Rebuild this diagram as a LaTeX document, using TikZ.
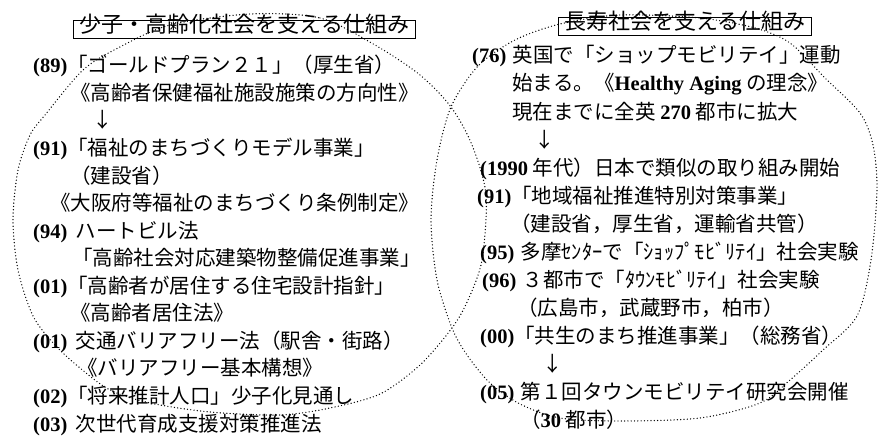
\documentclass[tikz,border=0pt]{standalone}
\usepackage{fontspec}
\setmainfont{Liberation Serif}
\newfontfamily\cjk{Noto Sans CJK JP}
\newcommand\lat[1]{{\rmfamily\bfseries #1}}
\begin{document}
\begin{tikzpicture}[x=1pt,y=-1pt,
  txt/.style={anchor=base west, inner sep=0pt, font=\fontsize{20.5}{24}\selectfont\cjk},
  arr/.style={anchor=base, inner sep=0pt, font=\fontsize{20.5}{24}\selectfont\cjk},
  ttl/.style={draw, line width=0.8pt, inner xsep=6pt, inner ysep=4pt, text height=0.88em, text depth=0.12em, font=\fontsize{22}{26}\selectfont\cjk},
  ring/.style={line width=1.4pt, line cap=round, dash pattern=on 0pt off 3.3pt}]
\useasboundingbox (0,0) rectangle (879,436);
% circles
\draw[ring] plot[smooth cycle] coordinates {(250,14) (320,18) (375,45) (420,75) (451,107) (472,145) (486,195) (482,260) (468,300) (452,328) (420,365) (380,394) (330,408) (280,415) (210,412) (150,403) (110,390) (80,368) (55,345) (33,316) (18,270) (13,220) (18,170) (30,135) (45,115) (83,70) (118,48) (170,25)};
\draw[ring] plot[smooth cycle] coordinates {(620,15) (700,18) (755,28) (790,43) (825,78) (860,113) (873,145) (877,190) (871,260) (857,316) (823,350) (790,380) (760,403) (700,418) (620,421) (560,418) (520,404) (490,383) (467,355) (452,328) (437,280) (431,220) (437,160) (451,107) (478,66) (515,40) (560,24)};
% titles
\node[ttl] (tl) at (244.5,29) {少子・高齢化社会を支える仕組み};
\node[ttl] (tr) at (685,26) {長寿社会を支える仕組み};
% left column
\node[txt] (l1) at (33,73) {\lat{(89)}「ゴールドプラン２１」（厚生省）};
\node[txt] (l2) at (70,100) {《高齢者保健福祉施設施策の方向性》};
\node[arr] (l3) at (103,128) {↓};
\node[txt] (l4) at (33,155) {\lat{(91)}「福祉のまちづくりモデル事業」};
\node[txt] (l5) at (70,183) {（建設省）};
\node[txt] (l6) at (50,210) {《大阪府等福祉のまちづくり条例制定》};
\node[txt] (l7) at (33,238) {\lat{(94)}\hspace{0.4em}ハートビル法};
\node[txt] (l8) at (72,265) {「高齢社会対応建築物整備促進事業」};
\node[txt] (l9) at (33,293) {\lat{(01)}「高齢者が居住する住宅設計指針」};
\node[txt] (l10) at (70,320) {《高齢者居住法》};
\node[txt] (l11) at (33,348) {\lat{(01)}\hspace{0.4em}交通バリアフリー法（駅舎・街路）};
\node[txt] (l12) at (77,375) {《バリアフリー基本構想》};
\node[txt] (l13) at (33,403) {\lat{(02)}「将来推計人口」少子化見通し};
\node[txt] (l14) at (33,431) {\lat{(03)}\hspace{0.4em}次世代育成支援対策推進法};
% right column
\node[txt] (r1) at (472,63) {\lat{(76)}\hspace{0.3em}英国で「ショップモビリテイ」運動};
\node[txt] (r2) at (512,91) {始まる。《\lat{Healthy Aging} の理念》};
\node[txt] (r3) at (512,119) {現在までに全英 \lat{270} 都市に拡大};
\node[arr] (r4) at (545,147) {↓};
\node[txt] (r5) at (480,175) {\lat{(1990} 年代）日本で類似の取り組み開始};
\node[txt] (r6) at (477,203) {\lat{(91)}「地域福祉推進特別対策事業」};
\node[txt] (r7) at (510,231) {（建設省，厚生省，運輸省共管）};
\node[txt] (r8) at (480,259) {\lat{(95)}\hspace{0.3em}多摩ｾﾝﾀｰで「ｼｮｯﾌﾟﾓﾋﾞﾘﾃｲ」社会実験};
\node[txt] (r9) at (482,287) {\lat{(96)}\hspace{0.3em}３都市で「ﾀｳﾝﾓﾋﾞﾘﾃｲ」社会実験};
\node[txt] (r10) at (517,315) {（広島市，武蔵野市，柏市）};
\node[txt] (r11) at (480,343) {\lat{(00)}「共生のまち推進事業」（総務省）};
\node[arr] (r12) at (553,371) {↓};
\node[txt] (r13) at (480,399) {\lat{(05)}\hspace{0.3em}第１回タウンモビリテイ研究会開催};
\node[txt] (r14) at (520,427) {（\lat{30} 都市）};
\end{tikzpicture}
\end{document}
